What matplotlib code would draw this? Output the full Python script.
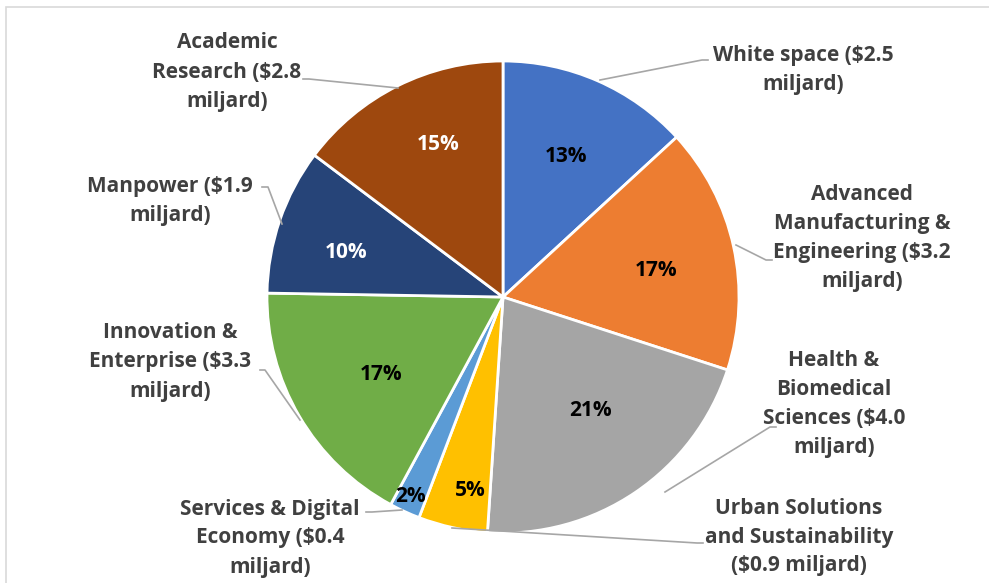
import matplotlib.pyplot as plt
from matplotlib.patches import Rectangle

# Budget areas (clockwise from 12 o'clock), in billions
labels = [
    'White space ($2.5\nmiljard)',
    'Advanced\nManufacturing &\nEngineering ($3.2\nmiljard)',
    'Health &\nBiomedical\nSciences ($4.0\nmiljard)',
    'Urban Solutions\nand Sustainability\n($0.9 miljard)',
    'Services & Digital\nEconomy ($0.4\nmiljard)',
    'Innovation &\nEnterprise ($3.3\nmiljard)',
    'Manpower ($1.9\nmiljard)',
    'Academic\nResearch ($2.8\nmiljard)',
]
amounts = [2.5, 3.2, 4.0, 0.9, 0.4, 3.3, 1.9, 2.8]
colors = ['#4472C4', '#ED7D31', '#A5A5A5', '#FFC000', '#5B9BD5', '#70AD47', '#264478', '#9E480E']
pct_colors = ['black', 'black', 'black', 'black', 'black', 'black', 'white', 'white']

W, H = 989, 583
fig = plt.figure(figsize=(W / 100, H / 100), dpi=100)
ax = fig.add_axes([0, 0, 1, 1])

# light frame around the chart area
fig.patches.append(Rectangle((6 / W, -0.1), 1.2, (H - 7) / H + 0.1, transform=fig.transFigure,
                             fill=False, edgecolor='#d9d9d9', linewidth=1.2))

cx, cy, r = 503, H - 297, 236
ax.pie(amounts, colors=colors, startangle=90, counterclock=False,
       center=(cx, cy), radius=r, frame=True,
       wedgeprops=dict(edgecolor='white', linewidth=2))
ax.set_xlim(0, W)
ax.set_ylim(0, H)
ax.axis('off')

font = dict(family=['Open Sans', 'DejaVu Sans'], fontweight='bold')

total = sum(amounts)
pct_pos = [(566, 157), (656, 270), (590, 410), (470, 490), (410, 497), (381, 374), (346, 252), (438, 144)]
for v, (px, py), c in zip(amounts, pct_pos, pct_colors):
    ax.text(px, H - py, f'{v / total * 100:.0f}%', ha='center', va='center',
            fontsize=15, color=c, **font)

# outer labels: text centre and leader polyline (pixel coords from top)
lab_pos = [(803, 70), (862, 238), (834, 404), (799, 537), (270, 538), (170, 362), (170, 201), (227, 72)]
leaders = [
    [(708, 60), (702, 60), (600, 80)],
    [(772, 260), (766, 260), (736, 245)],
    [(776, 427), (770, 427), (665, 492)],
    [(703, 543), (697, 543), (452, 528)],
    [(366, 512), (372, 512), (402, 510)],
    [(260, 370), (265, 370), (300, 420)],
    [(262, 187), (268, 187), (282, 224)],
    [(303, 79), (309, 79), (398, 88)],
]
for text, (tx, ty), pts in zip(labels, lab_pos, leaders):
    ax.text(tx, H - ty, text, ha='center', va='center', fontsize=15,
            color='#404040', linespacing=1.5, **font)
    ax.plot([p[0] for p in pts], [H - p[1] for p in pts], color='#a6a6a6', linewidth=1.2)

fig.savefig('out.png', dpi=100)
